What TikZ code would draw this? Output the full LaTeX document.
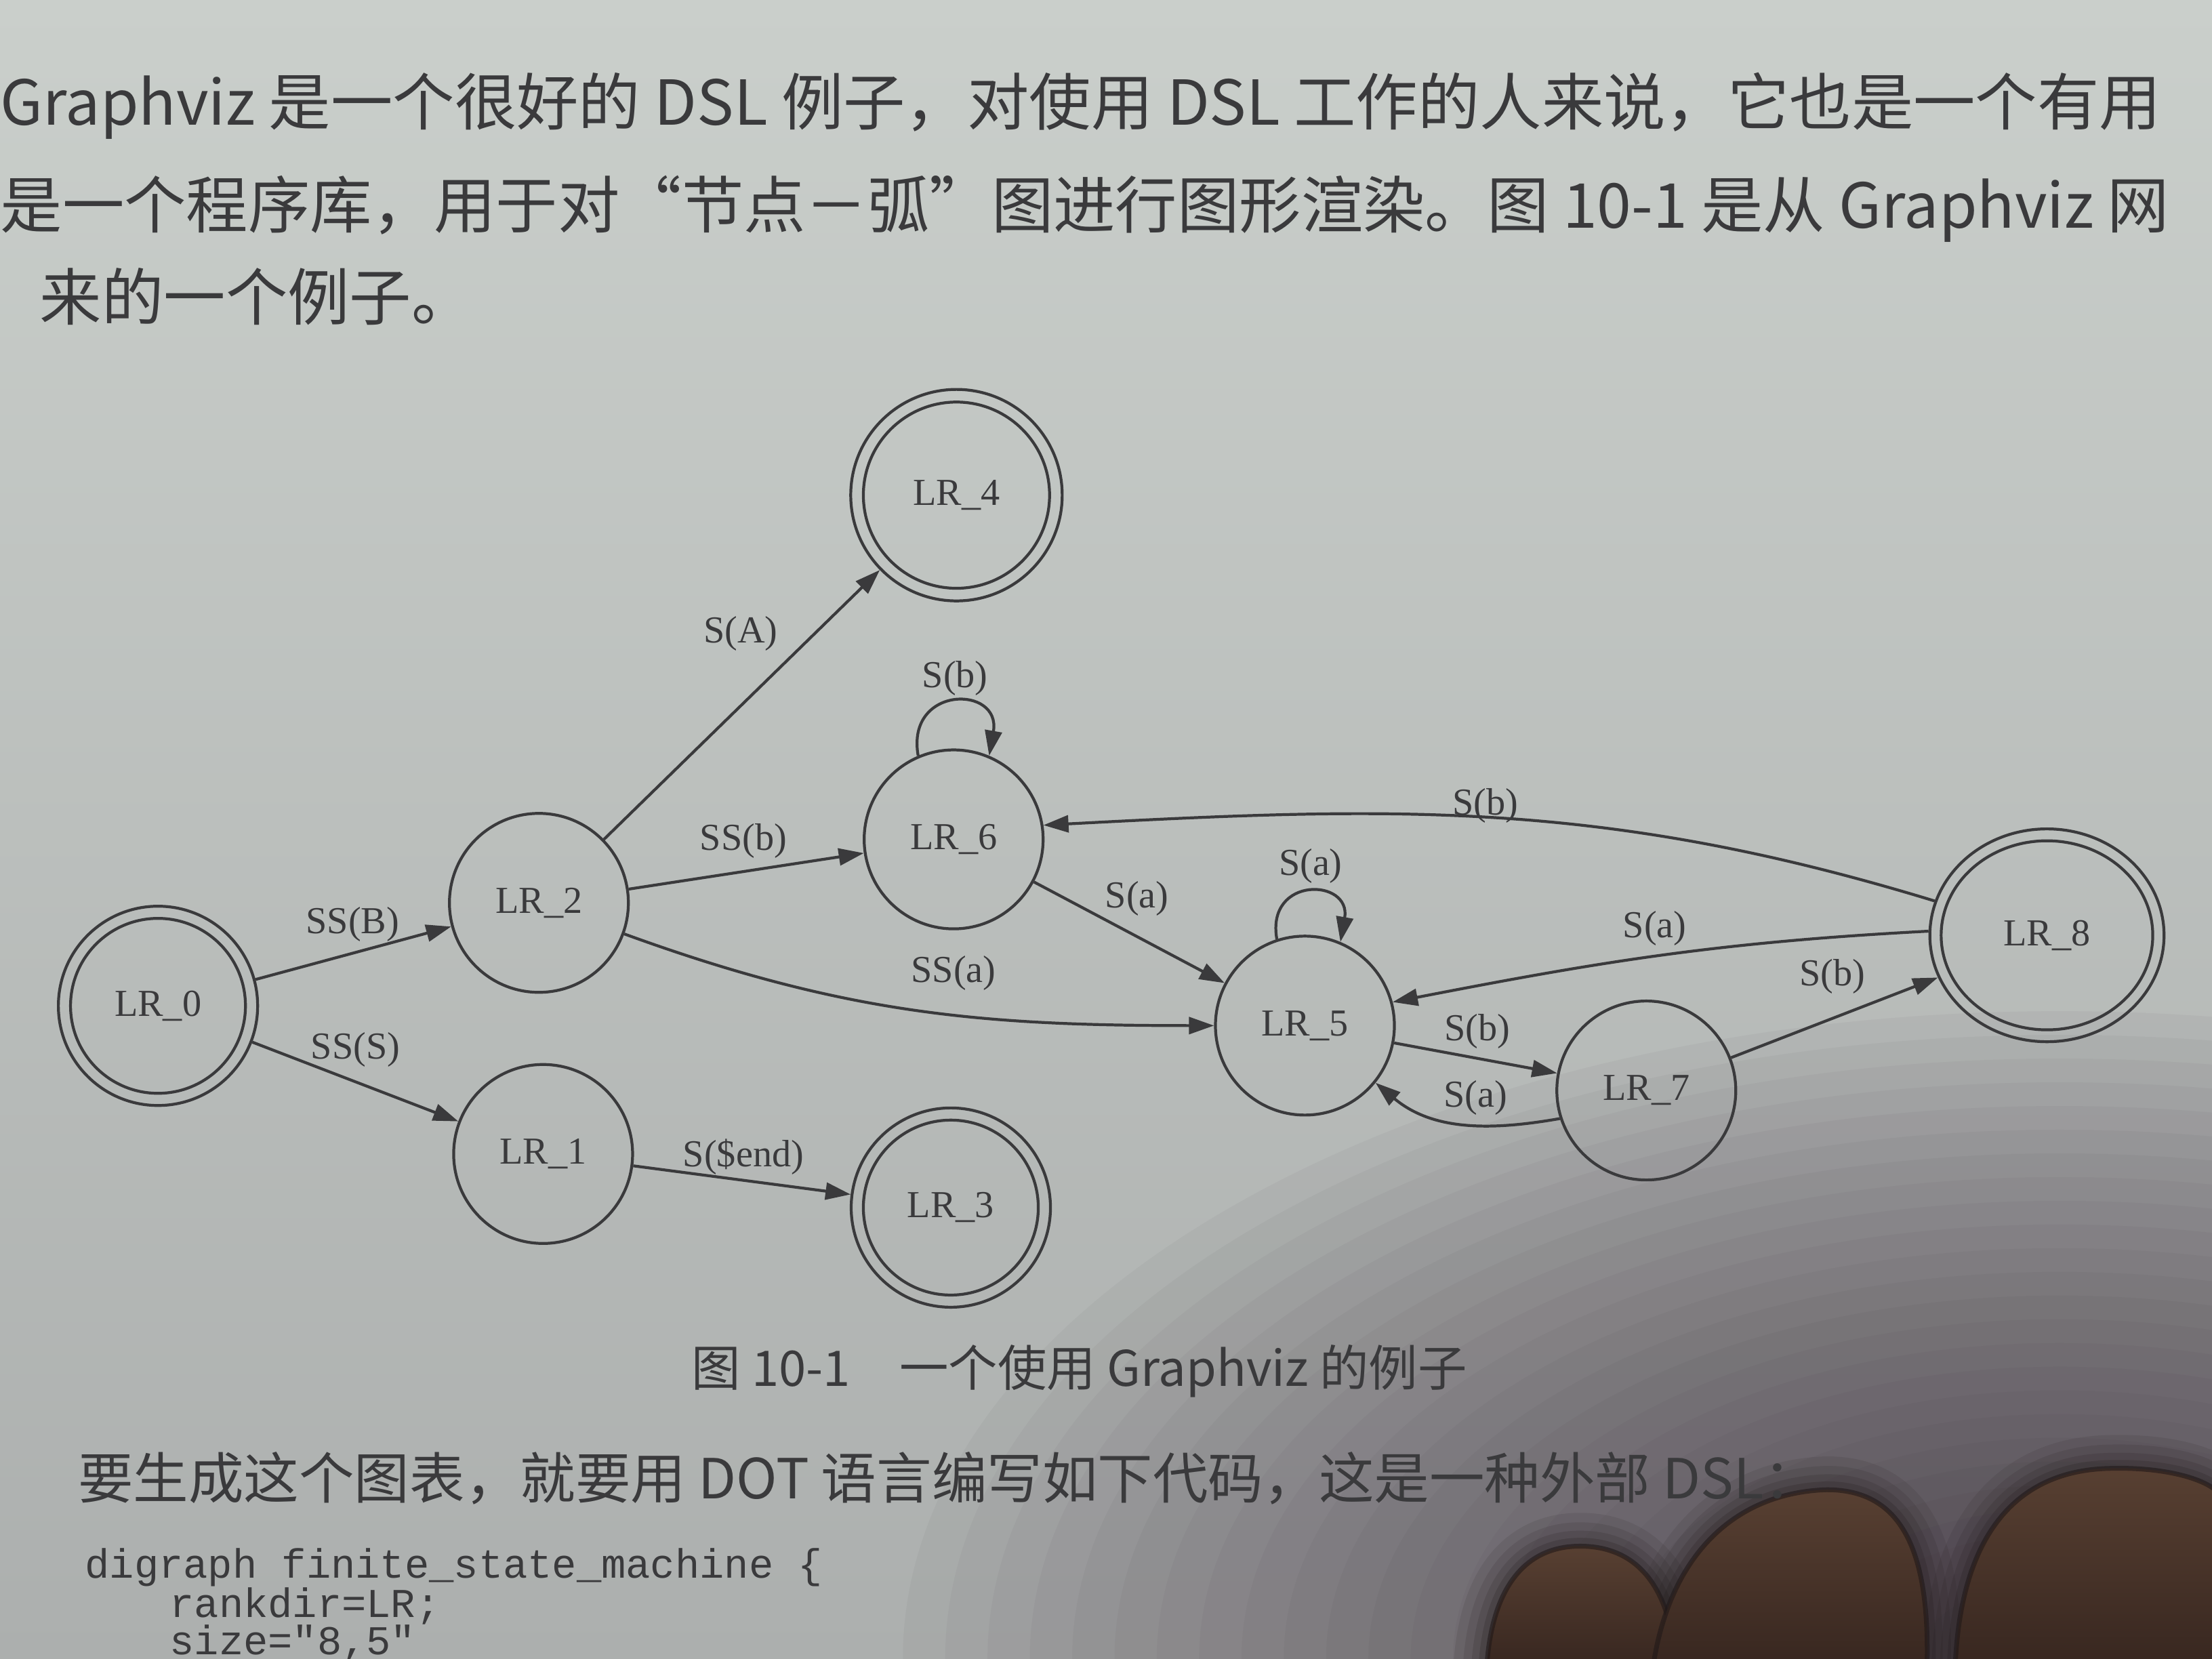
\documentclass[tikz,border=0pt]{standalone}
\usepackage{fontspec}
\setmainfont{Liberation Serif}
\newfontfamily\cjk{Noto Sans CJK SC}
\newfontfamily\codefont{Liberation Mono}
\usetikzlibrary{arrows.meta,shapes.geometric}
\definecolor{ink}{RGB}{58,58,60}
\definecolor{pagetop}{RGB}{202,207,203}
\definecolor{pagebot}{RGB}{172,175,174}
\definecolor{shadowc}{RGB}{45,30,45}
\definecolor{skin}{RGB}{88,64,50}
\definecolor{skinlow}{RGB}{56,39,32}
\definecolor{skindark}{RGB}{32,24,24}
\begin{document}
\begin{tikzpicture}[x=0.020816cm,y=0.020816cm,
  every node/.style={inner sep=0pt},
  st/.style={circle,draw=ink,line width=1.2pt,minimum size=2.64cm,text=ink,font=\fontsize{16}{18}\selectfont},
  ring/.style={draw=ink,line width=1.2pt},
  lab/.style={text=ink,font=\fontsize{16}{18}\selectfont},
  conn/.style={draw=ink,line width=1.2pt,-{Triangle[length=0.37cm,width=0.25cm]}},
  para/.style={text=ink,anchor=west,font=\cjk\fontsize{26}{30}\selectfont},
  captxt/.style={text=ink,anchor=west,font=\cjk\fontsize{20.6}{24}\selectfont},
  para2/.style={text=ink,anchor=west,font=\cjk\fontsize{23.2}{27}\selectfont},
  codetxt/.style={text=ink,anchor=west,text height=0.72em,text depth=0.05em,font=\codefont\fontsize{17.2}{20}\selectfont},
  finger/.style={top color=skin,bottom color=skinlow,draw=skindark,line width=2pt,draw opacity=0.6}]
\useasboundingbox (0,0) rectangle (1568,-1176);
\clip (0,0) rectangle (1568,-1176);
% page
\shade[top color=pagetop,bottom color=pagebot] (0,0) rectangle (1568,-1176);
\foreach \r in {820,790,...,80}
  \fill[shadowc,opacity=0.038] (1460,-1176) ellipse[x radius=\r, y radius=0.56*\r];
% fingers: soft shadows first
\foreach \w/\o in {28/0.10,20/0.12,13/0.15,7/0.2}{
  \draw[skindark,line width=\w pt,opacity=\o] (1054,-1180) .. controls (1058,-1124) and (1082,-1096) .. (1120,-1096) .. controls (1160,-1096) and (1184,-1124) .. (1188,-1180);
  \draw[skindark,line width=\w pt,opacity=\o] (1386,-1180) .. controls (1390,-1092) and (1426,-1044) .. (1492,-1041) .. controls (1542,-1039) and (1572,-1052) .. (1575,-1062);
  \draw[skindark,line width=\w pt,opacity=\o] (1172,-1180) .. controls (1184,-1102) and (1230,-1058) .. (1295,-1056) .. controls (1345,-1056) and (1368,-1094) .. (1366,-1180);
}
\shadedraw[finger] (1054,-1180) .. controls (1058,-1124) and (1082,-1096) .. (1120,-1096) .. controls (1160,-1096) and (1184,-1124) .. (1188,-1180) -- cycle;
\shadedraw[finger] (1386,-1180) .. controls (1390,-1092) and (1426,-1044) .. (1492,-1041) .. controls (1542,-1039) and (1572,-1052) .. (1575,-1062) -- (1575,-1180) -- cycle;
\shadedraw[finger] (1172,-1180) .. controls (1184,-1102) and (1230,-1058) .. (1295,-1056) .. controls (1345,-1056) and (1368,-1094) .. (1366,-1180) -- cycle;
% text
\node[para] (p1) at (0,-75) {Graphviz 是一个很好的 DSL 例子，对使用 DSL 工作的人来说，它也是一个有用};
\node[para] (p2) at (0,-148) {是一个程序库，用于对“节点－弧”图进行图形渲染。图 10-1 是从 Graphviz 网};
\node[para] (p3) at (28,-210) {来的一个例子。};
\node[captxt] (cap) at (490,-972) {图 10-1\quad 一个使用 Graphviz 的例子};
\node[para2] (p5) at (55,-1048) {要生成这个图表，就要用 DOT 语言编写如下代码，这是一种外部 DSL：};
\node[codetxt] (c1) at (60,-1113) {digraph finite\_state\_machine \{};
\node[codetxt] (c2) at (120,-1141) {rankdir=LR;};
\node[codetxt] (c3) at (120,-1167) {size="8,5"};
% states
\node[st,minimum size=2.94cm] (LR0) at (112,-713) {LR\_0};
\draw[ring] (LR0.center) circle[radius=62];
\node[st] (LR2) at (382,-640) {LR\_2};
\node[st] (LR1) at (385,-818) {LR\_1};
\node[st,minimum size=3.12cm] (LR4) at (678,-351) {LR\_4};
\draw[ring] (LR4.center) circle[radius=66];
\node[st] (LR6) at (676,-595) {LR\_6};
\node[st,minimum size=2.94cm] (LR3) at (674,-856) {LR\_3};
\draw[ring] (LR3.center) circle[radius=62];
\node[st] (LR5) at (925,-727) {LR\_5};
\node[st] (LR7) at (1167,-773) {LR\_7};
\node[st,ellipse,minimum width=3.455cm,minimum height=3.14cm] (LR8) at (1451,-663) {LR\_8};
\draw[ring] (LR8.center) ellipse[x radius=75, y radius=67];
% edges
\draw[conn] (LR0) -- (LR2);
\draw[conn] (LR0) -- (LR1);
\draw[conn] (LR2) -- (LR4);
\draw[conn] (LR2) -- (LR6);
\draw[conn] (LR2.-20) to[out=-20,in=180] (LR5.180);
\draw[conn] (LR1) -- (LR3);
\draw[conn] (LR6.113) to[out=100,in=80,looseness=2.6] (LR6.67);
\draw[conn] (LR6) -- (LR5);
\draw[conn] (LR8.163) to[out=163,in=3] (LR6.9);
\draw[conn] (LR5.108) to[out=100,in=80,looseness=2.6] (LR5.67);
\draw[conn] (LR8.178) to[out=183,in=11] (LR5.15);
\draw[conn] (LR5.-11) -- (LR7.169);
\draw[conn] (LR7.198) to[out=190,in=-40] (LR5.-39);
\draw[conn] (LR7) -- (LR8);
% edge labels
\node[lab] (tSSB) at (250,-655) {SS(B)};
\node[lab] (tSSS) at (252,-744) {SS(S)};
\node[lab] (tSA) at (525,-449) {S(A)};
\node[lab] (tSSb) at (527,-596) {SS(b)};
\node[lab] (tSSa) at (676,-690) {SS(a)};
\node[lab] (tSend) at (527,-820) {S(\$end)};
\node[lab] (tSb6) at (677,-481) {S(b)};
\node[lab] (tSa65) at (806,-637) {S(a)};
\node[lab] (tSb86) at (1053,-571) {S(b)};
\node[lab] (tSa5) at (929,-614) {S(a)};
\node[lab] (tSa85) at (1173,-658) {S(a)};
\node[lab] (tSb57) at (1047,-731) {S(b)};
\node[lab] (tSa75) at (1046,-778) {S(a)};
\node[lab] (tSb78) at (1299,-692) {S(b)};
\end{tikzpicture}
\end{document}
